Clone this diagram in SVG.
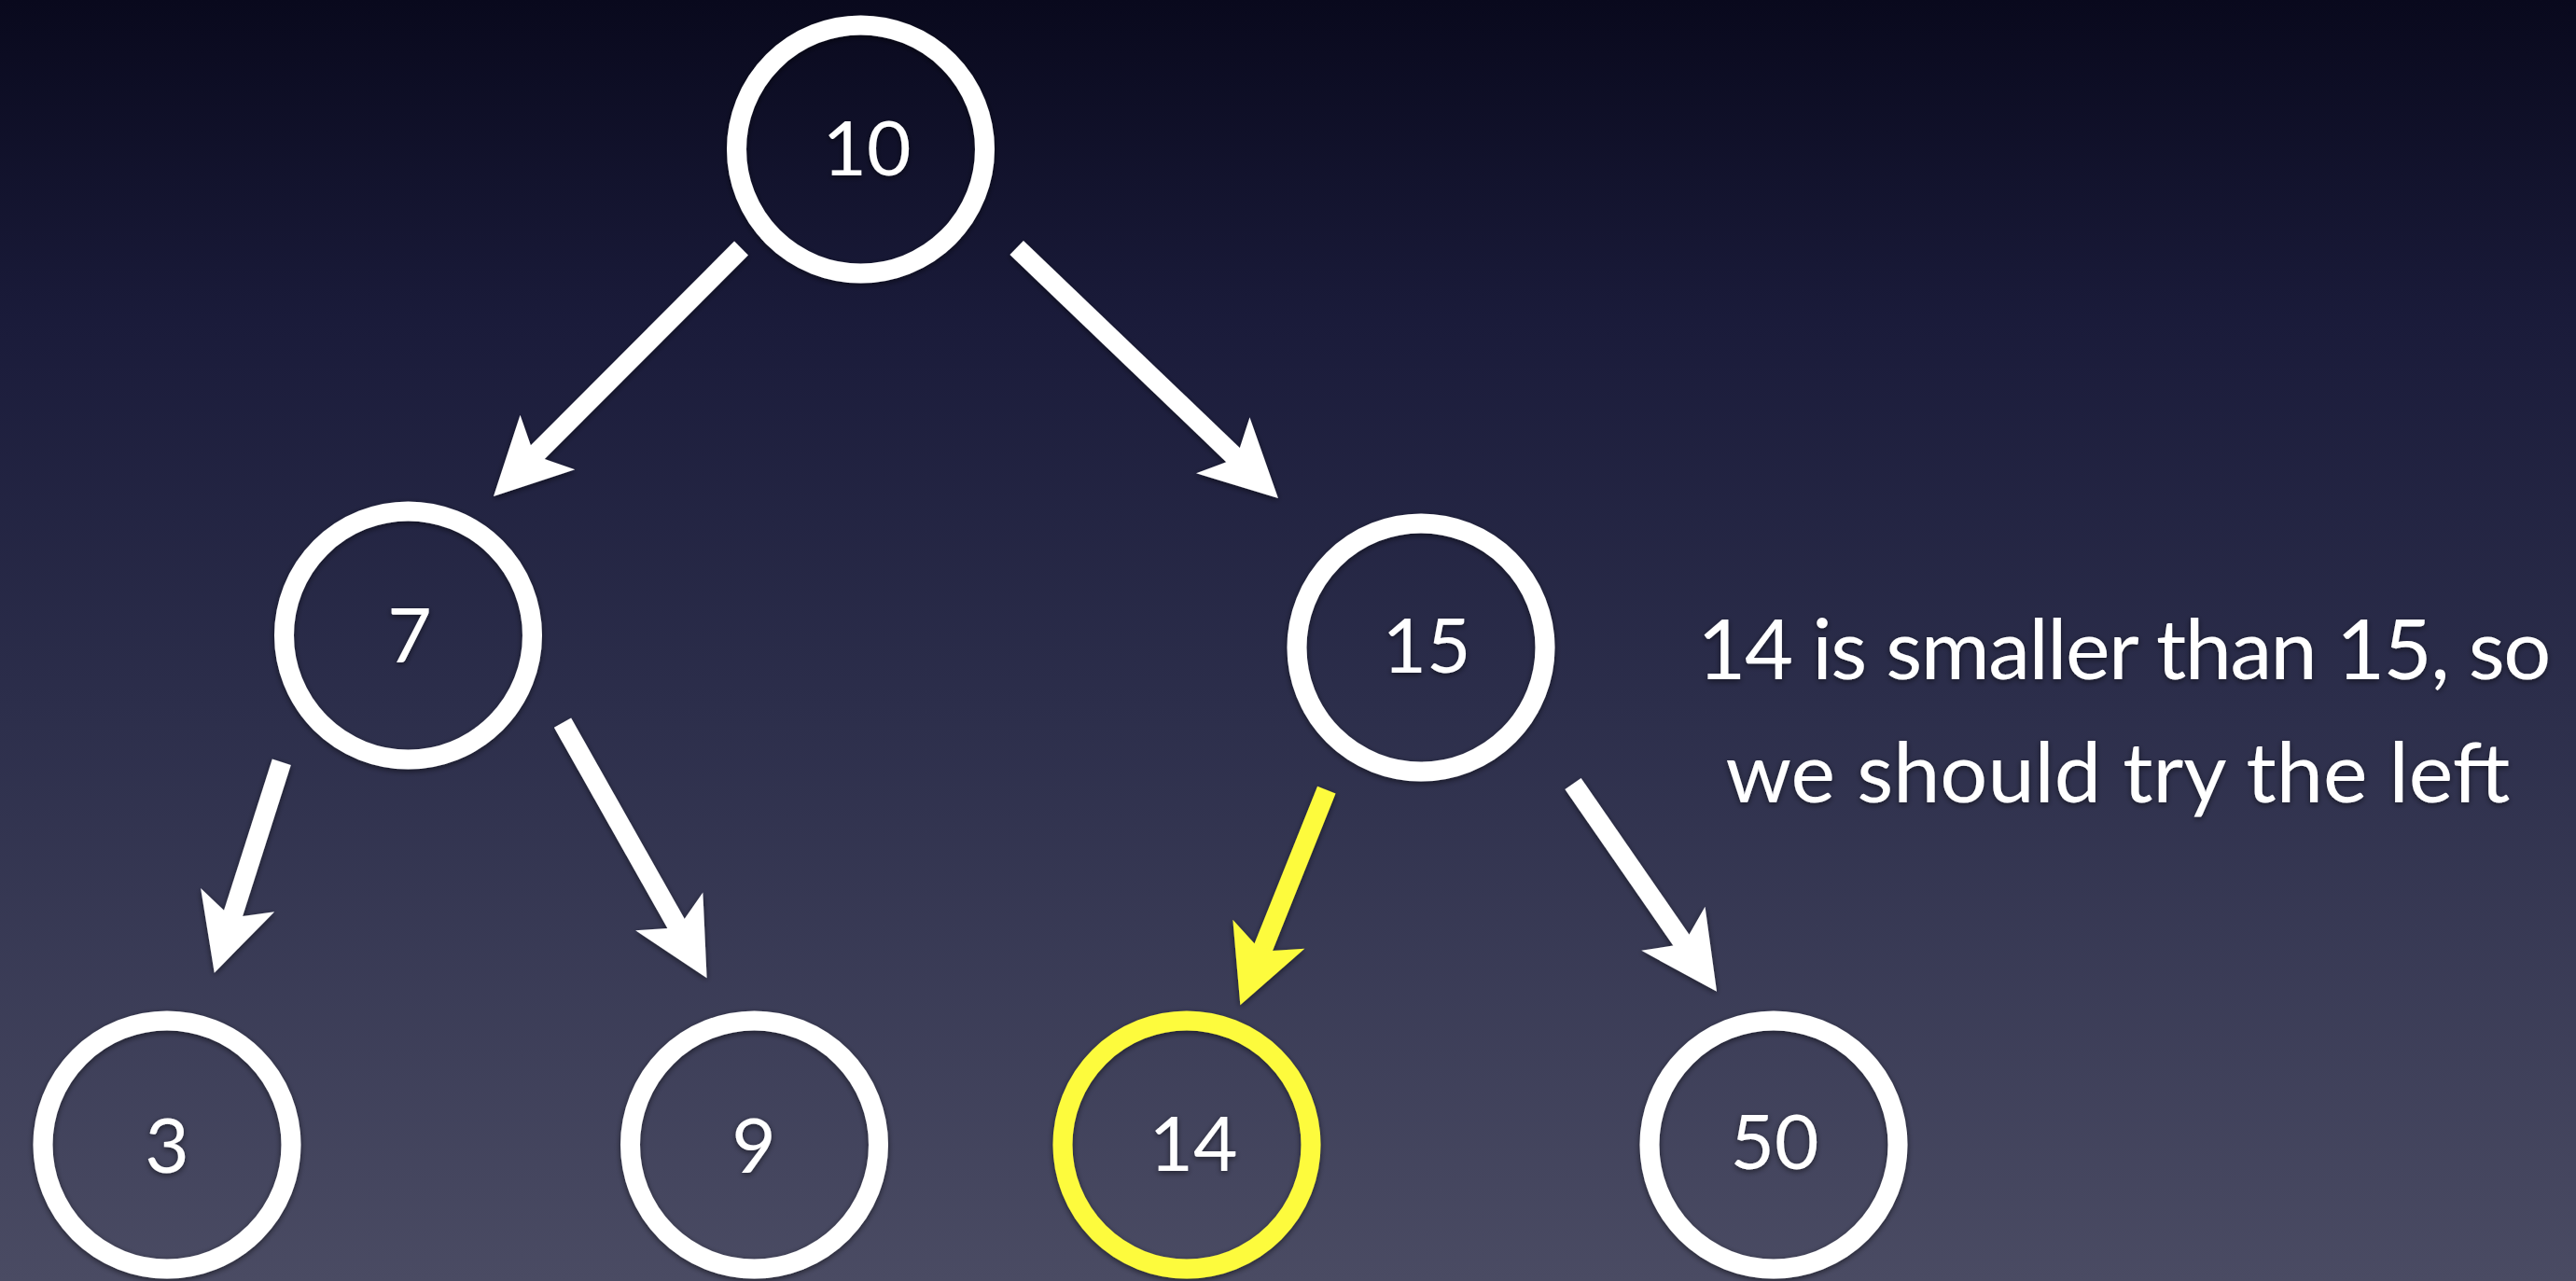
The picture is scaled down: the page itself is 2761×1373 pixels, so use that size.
<svg xmlns="http://www.w3.org/2000/svg" width="2761" height="1373" viewBox="0 0 2761 1373">
  <defs>
    <linearGradient id="bg" x1="0" y1="0" x2="0" y2="1">
      <stop offset="0" stop-color="#09091d"/>
      <stop offset="0.25" stop-color="#1a1b3a"/>
      <stop offset="0.55" stop-color="#2c2e4b"/>
      <stop offset="1" stop-color="#4a4b63"/>
    </linearGradient>
    <filter id="shade" x="-20%" y="-20%" width="140%" height="140%">
      <feGaussianBlur in="SourceAlpha" stdDeviation="3"/>
      <feOffset dx="0" dy="2" result="b"/>
      <feComponentTransfer><feFuncA type="linear" slope="0.55"/></feComponentTransfer>
      <feMerge><feMergeNode/><feMergeNode in="SourceGraphic"/></feMerge>
    </filter>
    <!-- swept-back arrowhead; origin sits at the shaft end -->
    <marker id="head" markerUnits="userSpaceOnUse" markerWidth="10" markerHeight="10" refX="0" refY="0" orient="auto" overflow="visible">
      <path d="M66,0 L-16,-41.5 L-1,-10.5 L-1,10.5 L-16,41.5 Z" fill="#ffffff"/>
    </marker>
    <marker id="headHi" markerUnits="userSpaceOnUse" markerWidth="10" markerHeight="10" refX="0" refY="0" orient="auto" overflow="visible">
      <path d="M66,0 L-16,-41.5 L-1,-10.5 L-1,10.5 L-16,41.5 Z" fill="#fdfb3e"/>
    </marker>
  </defs>
  <style>
    .ring { fill: none; stroke: #ffffff; stroke-width: 21; }
    .ring.hi { stroke: #fdfb3e; }
    .num { font-family: Lato, "Open Sans", "Liberation Sans", sans-serif; font-size: 82px; fill: #ffffff; text-anchor: middle; }
    .edge { stroke: #ffffff; stroke-width: 21; stroke-linecap: butt; fill: none; marker-end: url(#head); }
    .edge.hi { stroke: #fdfb3e; marker-end: url(#headHi); }
    .note { font-family: Lato, "Open Sans", "Liberation Sans", sans-serif; font-size: 90px; fill: #ffffff; text-anchor: middle; }
  </style>

  <rect x="0" y="0" width="2761" height="1373" fill="url(#bg)"/>

  <g id="connectors" filter="url(#shade)">
    <line class="edge" x1="794.5" y1="266" x2="575.6" y2="485.3"/>
    <line class="edge" x1="1089.7" y1="265.5" x2="1322.3" y2="488.3"/>
    <line class="edge" x1="301.8" y1="816.7" x2="249.8" y2="979.8"/>
    <line class="edge" x1="603" y1="774.7" x2="725.1" y2="990.8"/>
    <line class="edge hi" x1="1421.8" y1="846.7" x2="1353.9" y2="1016.1"/>
    <line class="edge" x1="1686" y1="840" x2="1802.5" y2="1008.4"/>
  </g>

  <g id="node-10" filter="url(#shade)">
    <circle class="ring" cx="922.5" cy="160" r="133"/>
    <text class="num" x="929" y="188">10</text>
  </g>
  <g id="node-7" filter="url(#shade)">
    <circle class="ring" cx="437.5" cy="681" r="133"/>
    <text class="num" x="439" y="710">7</text>
  </g>
  <g id="node-15" filter="url(#shade)">
    <circle class="ring" cx="1523" cy="694" r="133"/>
    <text class="num" x="1529" y="721">15</text>
  </g>
  <g id="node-3" filter="url(#shade)">
    <circle class="ring" cx="179" cy="1227" r="133"/>
    <text class="num" x="179" y="1257">3</text>
  </g>
  <g id="node-9" filter="url(#shade)">
    <circle class="ring" cx="808.5" cy="1227" r="133"/>
    <text class="num" x="808" y="1257">9</text>
  </g>
  <g id="node-14" filter="url(#shade)">
    <circle class="ring hi" cx="1272" cy="1227" r="133"/>
    <text class="num" x="1279" y="1255">14</text>
  </g>
  <g id="node-50" filter="url(#shade)">
    <circle class="ring" cx="1901" cy="1227" r="133"/>
    <text class="num" x="1902" y="1253">50</text>
  </g>

  <g id="note" filter="url(#shade)">
    <text class="note" x="2276" y="728" letter-spacing="-1.5">14 is smaller than 15, so</text>
    <text class="note" x="2270" y="860">we should try the left</text>
  </g>
</svg>
